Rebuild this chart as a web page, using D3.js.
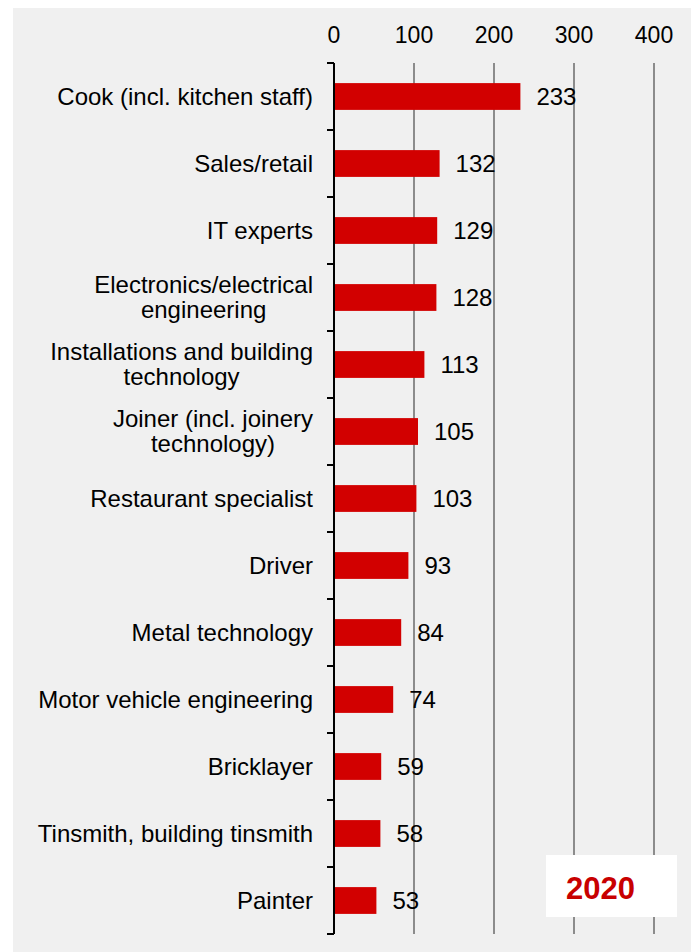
<!DOCTYPE html>
<html lang="en">
<head>
<meta charset="utf-8">
<title>Occupations 2020</title>
<script src="https://d3js.org/d3.v7.min.js"></script>
<style>
  body { margin: 0; background: #fff; }
  svg text { font-family: "Liberation Sans", Arial, sans-serif; fill: #000; }
</style>
</head>
<body>
<script>
// labels use \n where the original wraps onto two lines
var categories = [
  "Cook (incl. kitchen staff)",
  "Sales/retail",
  "IT experts",
  "Electronics/electrical\nengineering",
  "Installations and building\ntechnology",
  "Joiner (incl. joinery\ntechnology)",
  "Restaurant specialist",
  "Driver",
  "Metal technology",
  "Motor vehicle engineering",
  "Bricklayer",
  "Tinsmith, building tinsmith",
  "Painter"
];
var values = [233, 132, 129, 128, 113, 105, 103, 93, 84, 74, 59, 58, 53];
var xTicks = [0, 100, 200, 300, 400];
var yearLabel = "2020";

var w = 694, h = 952;
var fontSize = 24;

var svg = d3.select("body").append("svg")
    .attr("width", w)
    .attr("height", h);

// grey plot background
svg.append("rect")
    .attr("x", 13).attr("y", 8)
    .attr("width", 678).attr("height", h - 8)
    .attr("fill", "#f0f0f0");

var x = d3.scaleLinear()
    .domain([0, 400])
    .range([334, 654]);

var y = d3.scaleBand()
    .domain(categories)
    .range([63, 934])
    .paddingInner(0.6)
    .paddingOuter(0.3);

// vertical gridlines
svg.append("g")
    .selectAll("line")
    .data(xTicks.filter(function(d) { return d > 0; }))
    .enter().append("line")
    .attr("x1", function(d) { return x(d); })
    .attr("x2", function(d) { return x(d); })
    .attr("y1", 63).attr("y2", 934)
    .attr("stroke", "#8c8c8c")
    .attr("stroke-width", 2);

// top tick labels
svg.append("g")
    .selectAll("text")
    .data(xTicks)
    .enter().append("text")
    .attr("x", function(d) { return x(d); })
    .attr("y", 43)
    .attr("text-anchor", "middle")
    .style("font-size", "23px")
    .text(function(d) { return d; });

// bars
svg.append("g")
    .selectAll("rect")
    .data(values)
    .enter().append("rect")
    .attr("x", x(0))
    .attr("y", function(d, i) { return y(categories[i]); })
    .attr("width", function(d) { return x(d) - x(0); })
    .attr("height", y.bandwidth())
    .attr("fill", "#d20000");

// value labels
svg.append("g")
    .selectAll("text")
    .data(values)
    .enter().append("text")
    .attr("x", function(d) { return x(d) + 16; })
    .attr("y", function(d, i) { return y(categories[i]) + y.bandwidth() / 2; })
    .attr("dy", "0.35em")
    .style("font-size", fontSize + "px")
    .text(function(d) { return d; });

// left axis line + ticks between categories
var step = y.step();
var axisG = svg.append("g");
axisG.append("line")
    .attr("x1", x(0)).attr("x2", x(0))
    .attr("y1", 63).attr("y2", 934)
    .attr("stroke", "#000").attr("stroke-width", 2);
axisG.selectAll("line.tick")
    .data(d3.range(categories.length + 1))
    .enter().append("line")
    .attr("class", "tick")
    .attr("x1", x(0) - 7).attr("x2", x(0))
    .attr("y1", function(i) { return 63 + i * step; })
    .attr("y2", function(i) { return 63 + i * step; })
    .attr("stroke", "#000").attr("stroke-width", 2);

// category labels (wrapped labels are centred under each other)
var lineH = 25;
var labelRight = 313;
categories.forEach(function(c, i) {
  var lines = c.split("\n");
  var cy = y(c) + y.bandwidth() / 2;
  var g = svg.append("g");
  var texts = lines.map(function(l, k) {
    return g.append("text")
      .attr("y", cy + (k - (lines.length - 1) / 2) * lineH)
      .attr("dy", "0.35em")
      .style("font-size", fontSize + "px")
      .text(l);
  });
  if (lines.length === 1) {
    texts[0].attr("x", labelRight).attr("text-anchor", "end");
  } else {
    var maxW = d3.max(texts, function(t) { return t.node().getComputedTextLength(); });
    texts.forEach(function(t) {
      t.attr("x", labelRight - maxW / 2).attr("text-anchor", "middle");
    });
  }
});

// year box
svg.append("rect")
    .attr("x", 546).attr("y", 855)
    .attr("width", 131).attr("height", 62)
    .attr("fill", "#fff");
svg.append("text")
    .attr("x", 566).attr("y", 899)
    .style("font-size", "31px")
    .style("font-weight", "bold")
    .style("fill", "#c80000")
    .text(yearLabel);
</script>
</body>
</html>
